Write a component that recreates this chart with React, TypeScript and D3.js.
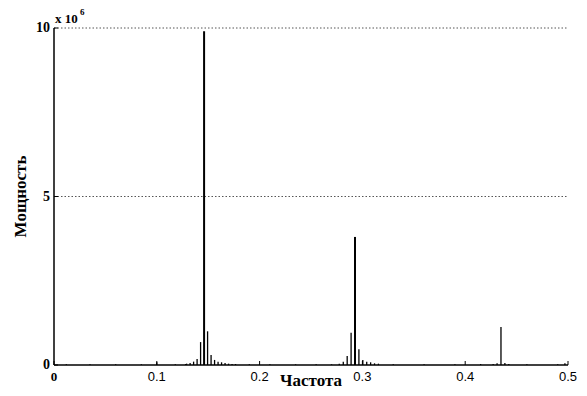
import React from 'react';
import * as d3 from 'd3';

// spectrum spikes: frequency (cycles/sample) and power (×10^6)
const freqs = [
  0.012, 0.035, 0.06, 0.085, 0.1, 0.118, 0.128,
  0.1290, 0.1324, 0.1358, 0.1392, 0.1426, 0.1460, 0.1494, 0.1528, 0.1562, 0.1596, 0.1630, 0.1664, 0.1698, 0.1732, 0.1766,
  0.19, 0.21, 0.235, 0.255, 0.27,
  0.2775, 0.2814, 0.2852, 0.2890, 0.2928, 0.2966, 0.3004, 0.3042, 0.3080, 0.3118, 0.3156,
  0.33, 0.36, 0.39, 0.415,
  0.4272, 0.4310, 0.4348, 0.4386, 0.4424,
  0.46, 0.49, 0.497
];
const powers = [
  0.02, 0.02, 0.02, 0.02, 0.08, 0.02, 0.03,
  0.04, 0.06, 0.1, 0.18, 0.68, 9.9, 1.0, 0.3, 0.15, 0.1, 0.08, 0.06, 0.04, 0.03, 0.03,
  0.02, 0.02, 0.02, 0.02, 0.02,
  0.04, 0.1, 0.27, 0.96, 3.8, 0.47, 0.15, 0.1, 0.08, 0.05, 0.04,
  0.02, 0.02, 0.02, 0.03,
  0.03, 0.05, 1.13, 0.06, 0.03,
  0.02, 0.02, 0.05
];
const xTicks = [0, 0.1, 0.2, 0.3, 0.4, 0.5];
const yTicks = [0, 5, 10];
const gridTicks = [5, 10];

const W = 587;
const H = 396;
const margin = { left: 54, right: 19, top: 28, bottom: 31 };
const serif = '"Liberation Serif", "DejaVu Serif", serif';
const sans = '"Liberation Sans", Arial, sans-serif';

export default function App() {
  const x = d3.scaleLinear().domain([0, 0.5]).range([margin.left, W - margin.right]);
  const y = d3.scaleLinear().domain([0, 10]).range([H - margin.bottom, margin.top]);
  const x0 = x(0);
  const x1 = x(0.5);
  const y0 = y(0);
  const yTop = y(10);

  return (
    <svg width={W} height={H} style={{ position: 'absolute', left: 0, top: 0, background: '#fff' }}>
      {/* dotted grid */}
      {gridTicks.map(t => (
        <line key={'g' + t} x1={x0} x2={x1} y1={y(t)} y2={y(t)} stroke="#555" strokeWidth={1} strokeDasharray="1.5,2" />
      ))}

      {/* spikes */}
      {freqs.map((f, i) => (
        <line
          key={i}
          x1={x(f)}
          x2={x(f)}
          y1={y0}
          y2={y(powers[i])}
          stroke="#000"
          strokeWidth={powers[i] > 3 ? 2 : 1.3}
        />
      ))}

      {/* axes */}
      <line x1={x0} x2={x1} y1={y0} y2={y0} stroke="#000" strokeWidth={1.5} />
      <line x1={x0} x2={x0} y1={y0} y2={yTop} stroke="#000" strokeWidth={1.5} />

      {xTicks.map(t => (
        <g key={'x' + t}>
          <line x1={x(t)} x2={x(t)} y1={y0} y2={y0 - 4} stroke="#000" strokeWidth={1} />
          <text x={x(t)} y={y0 + 16} fontSize={13} fontFamily={t === 0 ? serif : sans} fontWeight={t === 0 ? 'bold' : 'normal'} textAnchor="middle" fill="#000">
            {t.toString()}
          </text>
        </g>
      ))}
      {yTicks.map(t => (
        <g key={'y' + t}>
          <line x1={x0} x2={x0 + 4} y1={y(t)} y2={y(t)} stroke="#000" strokeWidth={1} />
          <text x={x0 - 4} y={y(t) + 4} fontSize={14} fontFamily={serif} fontWeight="bold" textAnchor="end" fill="#000">
            {t}
          </text>
        </g>
      ))}

      {/* exponent */}
      <text x={55} y={23} fontSize={13} fontFamily={serif} fontWeight="bold" fill="#000">
        x 10
      </text>
      <text x={80} y={15} fontSize={9} fontFamily={serif} fontWeight="bold" fill="#000">
        6
      </text>

      {/* labels */}
      <text x={(x0 + x1) / 2} y={H - 10} fontSize={17} fontFamily={serif} fontWeight="bold" textAnchor="middle" fill="#000">
        Частота
      </text>
      <text
        transform={`translate(26,${(y0 + yTop) / 2}) rotate(-90)`}
        fontSize={17}
        fontFamily={serif}
        fontWeight="bold"
        textAnchor="middle"
        fill="#000"
      >
        Мощность
      </text>
    </svg>
  );
}
